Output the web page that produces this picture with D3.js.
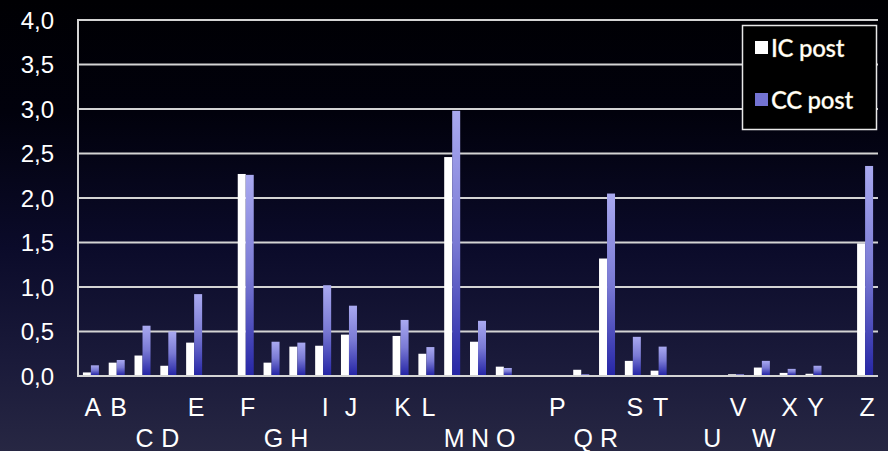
<!DOCTYPE html>
<html><head><meta charset="utf-8">
<script src="https://cdn.jsdelivr.net/npm/d3@7"></script>
<style>html,body{margin:0;padding:0;background:#000;}svg{display:block;}</style>
</head><body>
<svg id="chart" width="888" height="451"></svg>
<script>
const categories = ["A","B","C","D","E","","F","G","H","I","J","","K","L","M","N","O","","P","Q","R","S","T","","U","V","W","X","Y","","Z"];
const labelRow   = [0,0,1,1,0,0,0,1,1,0,0,0,0,0,1,1,1,0,0,1,1,0,0,0,1,0,1,0,0,0,0];
const icPost = [0.04,0.15,0.23,0.115,0.375,0,2.27,0.15,0.33,0.34,0.465,0,0.45,0.25,2.46,0.385,0.105,0,0,0.07,1.32,0.17,0.06,0,0,0.02,0.095,0.035,0.025,0,1.49];
const ccPost = [0.12,0.18,0.565,0.50,0.92,0,2.26,0.385,0.375,1.02,0.79,0,0.63,0.325,2.98,0.62,0.09,0,0,0.02,2.05,0.44,0.33,0,0,0.02,0.17,0.08,0.115,0,2.36];
const seriesNames = ["IC post","CC post"];
const yTicks = [0,0.5,1,1.5,2,2.5,3,3.5,4];

const W = 888, H = 451;
const m = {left:78, right:10, top:20, bottom:75};
const svg = d3.select("#chart");
const defs = svg.append("defs");
const bg = defs.append("linearGradient").attr("id","bg").attr("x1",0).attr("y1",0).attr("x2",0).attr("y2",1);
[[0,"#000003"],[0.25,"#01010c"],[0.55,"#0b0b2a"],[0.8,"#1a1a3a"],[1,"#272743"]].forEach(s=>bg.append("stop").attr("offset",s[0]).attr("stop-color",s[1]));
const bl = defs.append("linearGradient").attr("id","blueGrad").attr("x1",0).attr("y1",0).attr("x2",0).attr("y2",1);
[[0,"#a9a9f0"],[0.5,"#7a7ad4"],[1,"#2626a6"]].forEach(s=>bl.append("stop").attr("offset",s[0]).attr("stop-color",s[1]));

svg.append("rect").attr("width",W).attr("height",H).attr("fill","url(#bg)");

const x = d3.scaleBand().domain(d3.range(categories.length)).range([m.left, 878]).paddingInner(0.38).paddingOuter(0.19);
const y = d3.scaleLinear().domain([0,4]).range([376, 20]);
const bw = x.bandwidth()/2;

// gridlines
svg.append("g").selectAll("line").data(yTicks).join("line")
  .attr("x1",m.left).attr("x2",878).attr("y1",d=>y(d)).attr("y2",d=>y(d))
  .attr("stroke","#d4d4d4").attr("stroke-width",2);
svg.append("line").attr("x1",m.left).attr("x2",m.left).attr("y1",y(4)-1).attr("y2",y(0)+1)
  .attr("stroke","#d4d4d4").attr("stroke-width",2);

// y labels
svg.append("g").selectAll("text").data(yTicks).join("text")
  .attr("x",54).attr("y",d=>y(d)).attr("dy","0.36em").attr("text-anchor","end")
  .attr("font-family","Liberation Sans, Arial, sans-serif").attr("font-size",24).attr("fill","#fff")
  .text(d=>d3.format(".1f")(d).replace(".",","));

// bars
const g = svg.append("g");
g.selectAll("rect.ic").data(icPost).join("rect").attr("class","ic")
  .attr("x",(d,i)=>x(i)).attr("width",bw).attr("y",d=>y(d)).attr("height",d=>y(0)-y(d)-1)
  .attr("fill","#ffffff");
g.selectAll("rect.cc").data(ccPost).join("rect").attr("class","cc")
  .attr("x",(d,i)=>x(i)+bw).attr("width",bw).attr("y",d=>y(d)).attr("height",d=>y(0)-y(d)-1)
  .attr("fill","url(#blueGrad)");

// x labels
svg.append("g").selectAll("text").data(categories.map((c,i)=>({c,i})).filter(d=>d.c)).join("text")
  .attr("x",d=>x(d.i)+x.bandwidth()/2+2).attr("y",d=>labelRow[d.i]?447:416)
  .attr("text-anchor","middle").attr("font-family","Liberation Sans, Arial, sans-serif")
  .attr("font-size",25).attr("fill","#fff").text(d=>d.c);

// legend
const lg = svg.append("g");
lg.append("rect").attr("x",742.5).attr("y",25.5).attr("width",134).attr("height",104)
  .attr("fill","#000").attr("stroke","#e8e8e8").attr("stroke-width",1.5);
const fills = ["#ffffff","#7373d2"];
seriesNames.forEach((n,i)=>{
  const yy = i===0 ? 57 : 109;
  lg.append("rect").attr("x",755).attr("y",yy-16).attr("width",13).attr("height",13).attr("fill",fills[i]);
  lg.append("text").attr("x",771).attr("y",yy).attr("font-family","Lato, Open Sans, sans-serif")
    .attr("font-size",24).attr("font-weight",600).attr("fill","#fff").attr("letter-spacing","-0.3")
    .attr("stroke","#d8c070").attr("stroke-width",0.4).attr("stroke-opacity",0.6).text(n);
});
</script>
</body></html>
